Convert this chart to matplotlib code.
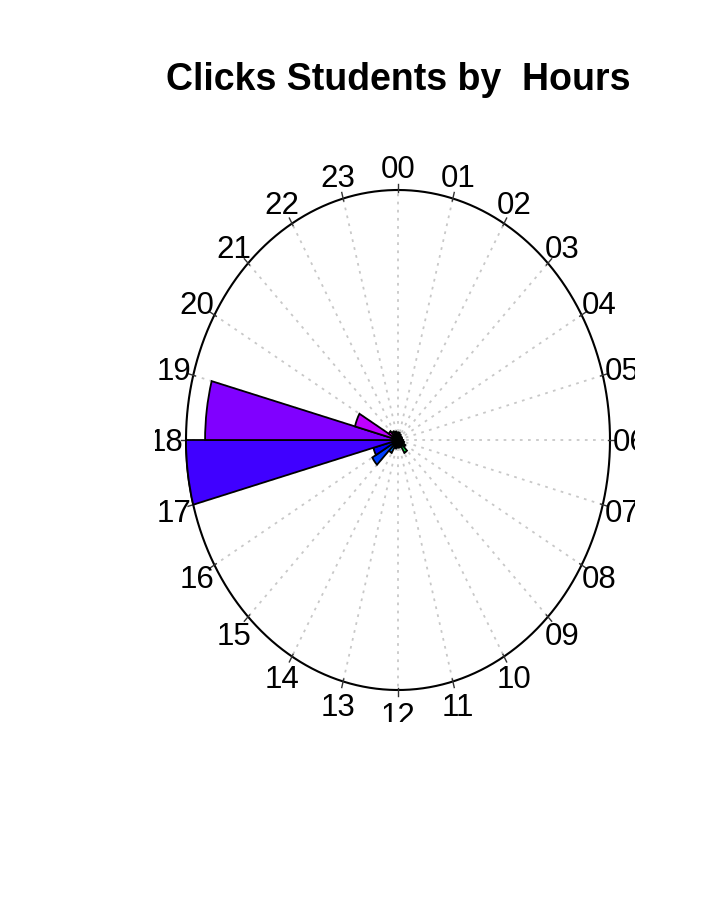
import colorsys
import numpy as np
import matplotlib
matplotlib.use("Agg")
import matplotlib.pyplot as plt
from matplotlib.patches import Wedge

# ---- data ----
hour_labels = ["%02d" % h for h in range(24)]
hours = list(range(24))
# relative bar radius (sqrt-scaled frequency) per hour bin
radius = [0.03, 0.025, 0.02, 0.02, 0.02, 0.02, 0.025, 0.03,
          0.04, 0.06, 0.03, 0.03, 0.03, 0.035, 0.06, 0.14,
          0.12, 1.00, 0.91, 0.21, 0.05, 0.04, 0.035, 0.03]
title = "Clicks Students by  Hours"

plt.rcParams['font.family'] = ['Liberation Sans', 'DejaVu Sans']

W, H = 720, 921
fig = plt.figure(figsize=(W / 100, H / 100), dpi=100)

cx, cy = 398, 440      # centre in pixels
rx, ry = 212, 250      # unit radius in pixels (x, y)
left_px, right_px, top_px, bot_px = 155, 635, 150, 722
ax = fig.add_axes([left_px / W, 1 - bot_px / H,
                   (right_px - left_px) / W, (bot_px - top_px) / H])
ax.set_xlim(-(cx - left_px) / rx, (right_px - cx) / rx)
ax.set_ylim(-(bot_px - cy) / ry, (cy - top_px) / ry)
ax.axis('off')

def colour(h):
    return colorsys.hsv_to_rgb(h / 24.0, 1.0, 1.0)

# grid lines
for h in hours:
    th = np.deg2rad(h * 15)
    ax.plot([0, np.sin(th)], [0, np.cos(th)], color='#c8c8c8', lw=1.3,
            ls=(0, (1.5, 3)), zorder=1)

# outer circle
t = np.linspace(0, 2 * np.pi, 400)
ax.plot(np.sin(t), np.cos(t), color='black', lw=1.5, zorder=2)

# ticks and labels
fs = 22.5
for h, lab in zip(hours, hour_labels):
    th = np.deg2rad(h * 15)
    ax.plot([0.99 * np.sin(th), 1.025 * np.sin(th)],
            [0.99 * np.cos(th), 1.025 * np.cos(th)], color='#333333', lw=1.0, zorder=3)
    ax.annotate(lab, (1.095 * np.sin(th), 1.095 * np.cos(th)),
                xytext=(0, -0.36 * fs), textcoords='offset points',
                fontsize=fs, ha='center', va='baseline',
                annotation_clip=False, clip_on=True, zorder=4)

# bars
for h, r in zip(hours, radius):
    th1 = 90 - (h + 1) * 15
    th2 = 90 - h * 15
    ax.add_patch(Wedge((0, 0), r, th1, th2, facecolor=colour(h),
                       edgecolor='black', lw=1.3, zorder=5))

fig.text(398 / W, 1 - 80 / H, title, fontsize=27, fontweight='bold',
         ha='center', va='center')

fig.savefig("out.png", dpi=100)
